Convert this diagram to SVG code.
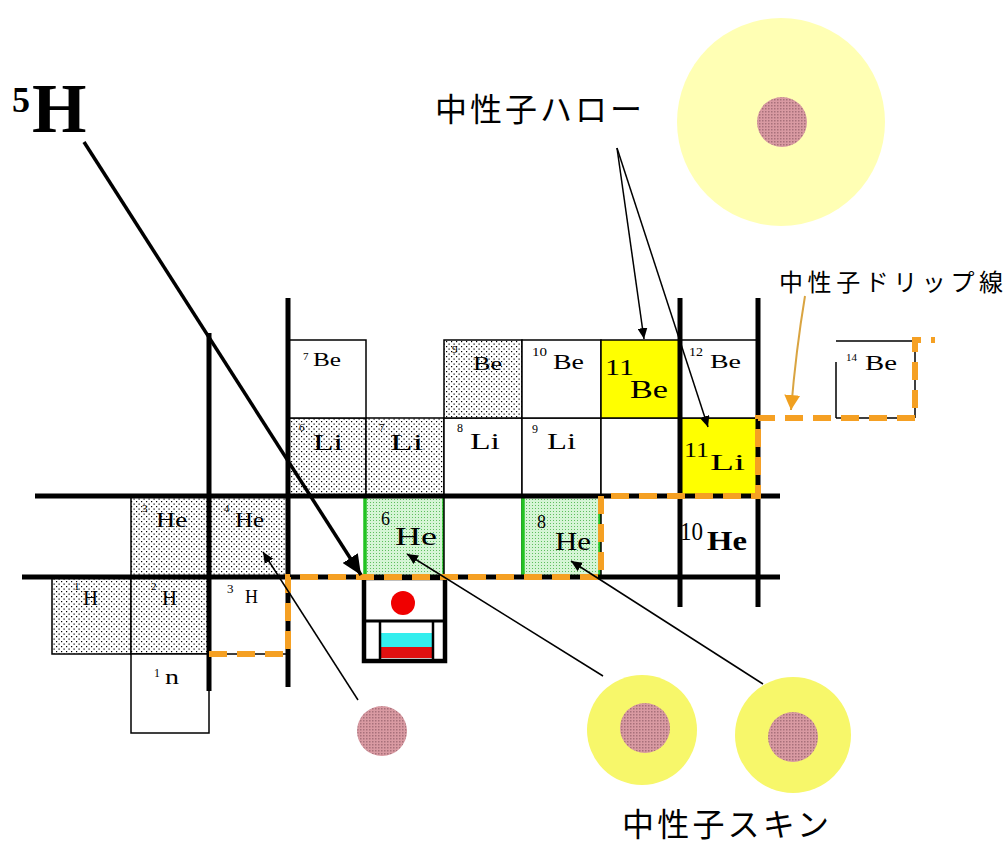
<svg xmlns="http://www.w3.org/2000/svg" width="1005" height="845" viewBox="0 0 1005 845">
<style>
  .thin { stroke:#000; stroke-width:1.5; fill:none; }
  .thick { stroke:#000; stroke-width:5; fill:none; }
  .cell { stroke:#000; stroke-width:1.5; }
  .white { fill:#fff; }
  .stip { fill:url(#dots); }
  .yel { fill:#ffff00; }
  .grn { fill:url(#greendots); }
  .gline { stroke:#22c322; stroke-width:3.5; }
  .drip { stroke:#f5a023; stroke-width:6; fill:none; stroke-dasharray:18 10; }
  .mono { font-family:"Liberation Serif", "DejaVu Serif", serif; fill:#000; }
  .serif { font-family:"Liberation Serif", "DejaVu Serif", serif; fill:#000; }
  .jp { font-family:"Noto Sans CJK JP", "Noto Sans", sans-serif; fill:#000; }
  .ptr { stroke:#000; stroke-width:1.5; fill:none; }
</style>
<defs>
  <pattern id="dots" width="5" height="5" patternUnits="userSpaceOnUse">
    <rect width="5" height="5" fill="#fff"/>
    <rect x="1" y="1" width="1.2" height="1.2" fill="#000"/>
    <rect x="3.5" y="3.5" width="1.2" height="1.2" fill="#000"/>
  </pattern>
  <pattern id="greendots" width="3" height="3" patternUnits="userSpaceOnUse">
    <rect width="3" height="3" fill="#d6f5d6"/>
    <rect x="1" y="1" width="1" height="1" fill="#5fbf5f"/>
  </pattern>
  <pattern id="coretex" width="3" height="3" patternUnits="userSpaceOnUse">
    <rect width="3" height="3" fill="#d99aa2"/>
    <rect width="1.5" height="1.5" fill="#a8707a"/>
  </pattern>
  <marker id="bigHead" markerUnits="userSpaceOnUse" markerWidth="22" markerHeight="18" refX="20" refY="9" orient="auto">
    <path d="M0,0 L20,9 L0,18 z" fill="#000"/>
  </marker>
  <marker id="smallHead" markerUnits="userSpaceOnUse" markerWidth="12" markerHeight="10" refX="11" refY="5" orient="auto">
    <path d="M0,0 L11,5 L0,10 z" fill="#000"/>
  </marker>
  <marker id="orangeHead" markerUnits="userSpaceOnUse" markerWidth="16" markerHeight="16" refX="15" refY="8" orient="auto">
    <path d="M0,0 L15,8 L0,16 z" fill="#f0a020"/>
  </marker>
</defs>

<!-- nuclear density pictures -->
<g id="halo-picture">
  <circle cx="781" cy="122" r="104" fill="#ffffb4"/>
  <circle cx="782" cy="122" r="25" fill="url(#coretex)"/>
</g>
<g id="core-5H">
  <circle cx="382" cy="731" r="25" fill="url(#coretex)"/>
</g>
<g id="skin-6He">
  <circle cx="642" cy="730" r="55" fill="#f7f76a"/>
  <circle cx="645" cy="728" r="25" fill="url(#coretex)"/>
</g>
<g id="skin-8He">
  <circle cx="793" cy="735" r="58" fill="#f7f76a"/>
  <circle cx="793" cy="737" r="25" fill="url(#coretex)"/>
</g>

<!-- chart cells -->
<g id="cell-1H"><rect class="cell stip" x="52" y="577" width="79" height="77"/>
  <text class="mono" x="74" y="590" font-size="11">1</text><text class="mono" x="83" y="605" font-size="20" textLength="15" lengthAdjust="spacingAndGlyphs">H</text></g>
<g id="cell-2H"><rect class="cell stip" x="131" y="577" width="78" height="77"/>
  <text class="mono" x="151" y="590" font-size="11">2</text><text class="mono" x="162" y="605" font-size="20" textLength="15" lengthAdjust="spacingAndGlyphs">H</text></g>
<g id="cell-3H"><rect class="cell white" x="209" y="577" width="79" height="77"/>
  <text class="mono" x="227" y="593" font-size="13">3</text><text class="mono" x="245" y="603" font-size="19" textLength="13" lengthAdjust="spacingAndGlyphs">H</text></g>
<g id="cell-1n"><rect class="cell white" x="131" y="654" width="78" height="79"/>
  <text class="mono" x="154" y="677" font-size="12">1</text><text class="mono" x="165" y="684" font-size="21" textLength="14" lengthAdjust="spacingAndGlyphs">n</text></g>

<g id="cell-3He"><rect class="cell stip" x="131" y="496" width="78" height="81"/>
  <text class="mono" x="142" y="512" font-size="11">3</text><text class="mono" x="156" y="527" font-size="20" textLength="31" lengthAdjust="spacingAndGlyphs">He</text></g>
<g id="cell-4He"><rect class="cell stip" x="209" y="496" width="79" height="81"/>
  <text class="mono" x="224" y="512" font-size="11">4</text><text class="mono" x="235" y="527" font-size="20" textLength="29" lengthAdjust="spacingAndGlyphs">He</text></g>
<g id="cell-5He"><rect class="cell white" x="288" y="496" width="78" height="81"/></g>
<g id="cell-6He"><rect class="grn" x="366" y="496" width="78" height="81"/>
  <line class="gline" x1="365" y1="498" x2="365" y2="575"/><line class="gline" x1="444" y1="498" x2="444" y2="575"/>
  <text class="mono" x="381" y="525" font-size="18">6</text><text class="mono" x="395" y="545" font-size="26" textLength="42" lengthAdjust="spacingAndGlyphs">He</text></g>
<g id="cell-7He"><rect class="cell white" x="444" y="496" width="78" height="81"/></g>
<g id="cell-8He"><rect class="grn" x="522" y="496" width="79" height="81"/>
  <line class="gline" x1="523" y1="498" x2="523" y2="575"/><line class="gline" x1="600" y1="498" x2="600" y2="575"/>
  <text class="mono" x="537" y="528" font-size="18">8</text><text class="mono" x="555" y="550" font-size="26" textLength="36" lengthAdjust="spacingAndGlyphs">He</text></g>
<g id="cell-9He"><rect class="cell white" x="601" y="496" width="79" height="81"/></g>
<g id="cell-10He"><rect class="cell white" x="680" y="496" width="78" height="81"/>
  <text class="serif" x="680" y="540" font-size="25" textLength="23" lengthAdjust="spacingAndGlyphs">10</text><text class="serif" x="707" y="550" font-size="27" font-weight="bold" textLength="40" lengthAdjust="spacingAndGlyphs">He</text></g>

<g id="cell-6Li"><rect class="cell stip" x="288" y="418" width="78" height="78"/>
  <text class="mono" x="299" y="431" font-size="11">6</text><text class="mono" x="313" y="450" font-size="24" textLength="30" lengthAdjust="spacingAndGlyphs">Li</text></g>
<g id="cell-7Li"><rect class="cell stip" x="366" y="418" width="78" height="78"/>
  <text class="mono" x="379" y="431" font-size="11">7</text><text class="mono" x="390" y="450" font-size="24" textLength="33" lengthAdjust="spacingAndGlyphs">Li</text></g>
<g id="cell-8Li"><rect class="cell white" x="444" y="418" width="78" height="78"/>
  <text class="mono" x="457" y="432" font-size="12">8</text><text class="mono" x="470" y="449" font-size="24" textLength="30" lengthAdjust="spacingAndGlyphs">Li</text></g>
<g id="cell-9Li"><rect class="cell white" x="522" y="418" width="79" height="78"/>
  <text class="mono" x="532" y="433" font-size="12">9</text><text class="mono" x="547" y="449" font-size="24" textLength="29" lengthAdjust="spacingAndGlyphs">Li</text></g>
<g id="cell-10Li"><rect class="cell white" x="601" y="418" width="79" height="78"/></g>
<g id="cell-11Li"><rect class="cell yel" x="680" y="418" width="78" height="78"/>
  <text class="mono" x="684" y="457" font-size="22" textLength="25" lengthAdjust="spacingAndGlyphs">11</text><text class="mono" x="710" y="470" font-size="24" textLength="35" lengthAdjust="spacingAndGlyphs">Li</text></g>

<g id="cell-7Be"><rect class="cell white" x="288" y="340" width="78" height="78"/>
  <text class="mono" x="303" y="360" font-size="11">7</text><text class="mono" x="313" y="366" font-size="19" textLength="28" lengthAdjust="spacingAndGlyphs">Be</text></g>
<g id="cell-9Be"><rect class="cell stip" x="444" y="340" width="78" height="78"/>
  <text class="mono" x="452" y="353" font-size="11">9</text><text class="mono" x="473" y="370" font-size="19" textLength="29" lengthAdjust="spacingAndGlyphs">Be</text></g>
<g id="cell-10Be"><rect class="cell white" x="522" y="340" width="79" height="78"/>
  <text class="mono" x="532" y="356" font-size="12" textLength="15" lengthAdjust="spacingAndGlyphs">10</text><text class="mono" x="553" y="369" font-size="20" textLength="31" lengthAdjust="spacingAndGlyphs">Be</text></g>
<g id="cell-11Be"><rect class="cell yel" x="601" y="340" width="79" height="78"/>
  <text class="mono" x="605" y="375" font-size="24" textLength="29" lengthAdjust="spacingAndGlyphs">11</text><text class="mono" x="630" y="398" font-size="26" textLength="38" lengthAdjust="spacingAndGlyphs">Be</text></g>
<g id="cell-12Be"><rect class="cell white" x="680" y="340" width="78" height="78"/>
  <text class="mono" x="689" y="356" font-size="12" textLength="14" lengthAdjust="spacingAndGlyphs">12</text><text class="mono" x="710" y="368" font-size="19" textLength="31" lengthAdjust="spacingAndGlyphs">Be</text></g>
<g id="cell-14Be">
  <path class="thin" d="M836,362 V418 M836,341 H915 M836,418 H915 M915,341 V418"/>
  <text class="mono" x="846" y="361" font-size="10" textLength="11" lengthAdjust="spacingAndGlyphs">14</text><text class="mono" x="865" y="370" font-size="20" textLength="32" lengthAdjust="spacingAndGlyphs">Be</text></g>

<!-- 5H: unbound nucleus box -->
<g id="box-5H">
  <rect x="364" y="578" width="81" height="83" fill="#fff" stroke="#000" stroke-width="4.5"/>
  <line x1="364" y1="621" x2="445" y2="621" stroke="#000" stroke-width="3"/>
  <rect x="381" y="633" width="51" height="14" fill="#33eeee"/>
  <rect x="381" y="647" width="51" height="11" fill="#e01010"/>
  <line x1="380" y1="621" x2="380" y2="660" stroke="#000" stroke-width="2.5"/>
  <line x1="433" y1="621" x2="433" y2="660" stroke="#000" stroke-width="2.5"/>
  <circle cx="403" cy="603" r="12" fill="#f00000"/>
</g>

<!-- magic-number grid lines -->
<g id="grid">
  <line class="thick" x1="35" y1="496" x2="780" y2="496"/>
  <line class="thick" x1="22" y1="577" x2="780" y2="577"/>
  <line class="thick" x1="209" y1="333" x2="209" y2="691"/>
  <line class="thick" x1="288" y1="298" x2="288" y2="687"/>
  <line class="thick" x1="680" y1="298" x2="680" y2="607"/>
  <line class="thick" x1="758" y1="298" x2="758" y2="607"/>
</g>

<g id="connectors">
  <!-- neutron drip line -->
  <path class="drip" d="M209,654 H288 V577 H601 V496 H758 V418 H915 V340 H935"/>
  <path d="M805,296 Q796,350 791,410" stroke="#d9a441" stroke-width="2" fill="none" marker-end="url(#orangeHead)"/>
  <!-- halo pointers -->
  <line class="ptr" x1="617" y1="148" x2="644" y2="339" marker-end="url(#smallHead)"/>
  <line class="ptr" x1="617" y1="148" x2="708" y2="427" marker-end="url(#smallHead)"/>
  <!-- skin pointers -->
  <line class="ptr" x1="358" y1="700" x2="263" y2="552" marker-end="url(#smallHead)"/>
  <line class="ptr" x1="603" y1="676" x2="407" y2="554" marker-end="url(#smallHead)"/>
  <line class="ptr" x1="763" y1="684" x2="571" y2="561" marker-end="url(#smallHead)"/>
  <!-- 5H pointer -->
  <line x1="84" y1="142" x2="361" y2="575" stroke="#000" stroke-width="3.5" marker-end="url(#bigHead)"/>
</g>

<g id="labels">
  <text class="serif" x="12" y="112" font-size="36" font-weight="bold">5</text>
  <text class="serif" x="32" y="132" font-size="70" font-weight="bold">H</text>
  <text class="jp" x="435" y="121" font-size="32" textLength="207" lengthAdjust="spacing">中性子ハロー</text>
  <text class="jp" x="779" y="291" font-size="24" textLength="224" lengthAdjust="spacing">中性子ドリップ線</text>
  <text class="jp" x="622" y="836" font-size="32" textLength="207" lengthAdjust="spacing">中性子スキン</text>
</g>
</svg>
